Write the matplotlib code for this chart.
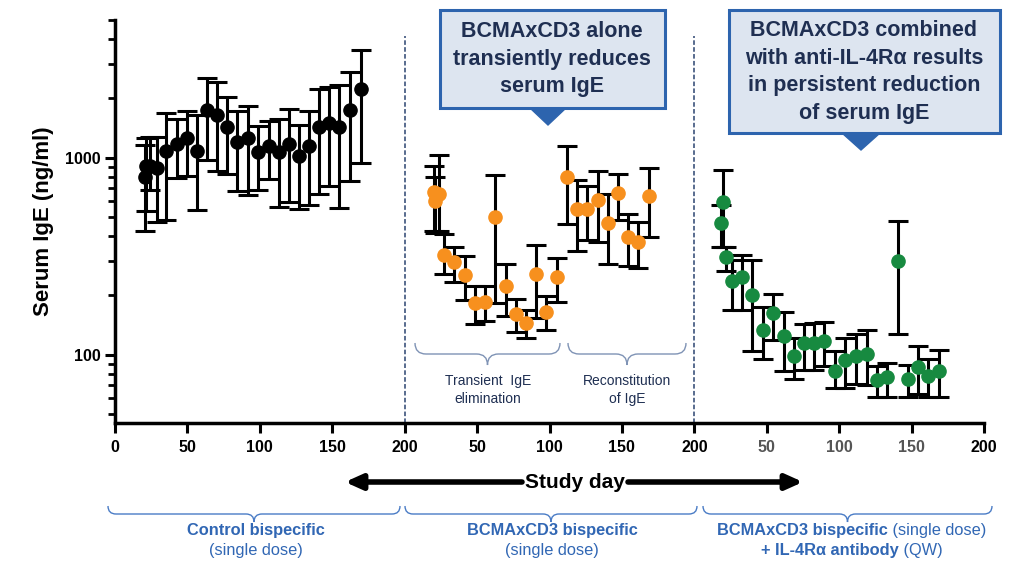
import numpy as np
import matplotlib
matplotlib.use('Agg')
import matplotlib.pyplot as plt
from matplotlib.path import Path
from matplotlib.patches import PathPatch, Polygon, Rectangle
from matplotlib.ticker import FixedLocator, LogLocator, NullFormatter, FixedFormatter

plt.rcParams['font.family'] = ['Liberation Sans', 'DejaVu Sans']

# Control bispecific (single dose)
day_ctrl = [21, 21.5, 24.5, 29, 35.3, 42.5, 49.6, 56.5, 63.5, 70.4, 77.6, 84.5,
            91.6, 99, 106, 113, 120, 127, 134, 141, 148, 155, 162, 170]
ige_ctrl = [794, 911, 911, 886, 1085, 1178, 1259, 1085, 1752, 1640, 1431, 1196,
            1259, 1064, 1150, 1064, 1178, 1016, 1150, 1431, 1500, 1431, 1752, 2240]
hi_ctrl = [1164, 1262, 1277, 1277, 1686, 1572, 1732, 1640, 2540, 2423, 2032, 1732,
           1837, 1453, 1541, 1577, 1767, 1470, 1732, 2232, 2286, 2346, 2724, 3536]
lo_ctrl = [423, 534, 688, 470, 484, 789, 804, 545, 977, 859, 827, 674,
           649, 682, 780, 562, 593, 549, 577, 656, 715, 555, 764, 940]

# BCMAxCD3 bispecific (single dose)
day_bcma = [20, 21, 23.5, 27.1, 34.2, 41.4, 48.3, 55.4, 62.5, 69.7, 76.8, 83.9,
            90.8, 97.7, 105, 112.2, 119, 126.1, 133.2, 140.2, 147.3, 154.2, 161.4, 168.5]
ige_bcma = [667, 600, 654, 321, 294, 253, 183, 186, 498, 222, 161, 144,
            258, 165, 248, 798, 551, 551, 612, 466, 662, 398, 372, 642]
hi_bcma = [911, 798, 1036, 410, 352, 316, 224, 224, 813, 287, 192, 169,
           362, 199, 310, 1141, 767, 721, 852, 654, 830, 520, 470, 886]
lo_bcma = [423, 415, 423, 257, 233, 190, 143, 149, 183, 157, 130, 122,
           154, 133, 185, 461, 335, 383, 375, 289, 484, 283, 277, 398]

# BCMAxCD3 bispecific + IL-4Ra antibody (QW)
day_combo = [19.7, 18.6, 21.6, 26, 33, 40, 47.2, 54.2, 61.6, 68.6, 75.6, 82.6,
             89.8, 97.2, 104.2, 111.6, 119, 126.3, 133.3, 140.3, 147.2, 154.2, 161.2, 168.6]
ige_combo = [593, 466, 313, 236, 248, 202, 134, 162, 125, 98, 114, 115,
             118, 83, 93.5, 99, 101, 74, 77, 298, 75, 87, 78, 83]
hi_combo = [862, 578, 354, 301, 319, 301, 175, 203, 164, 121, 143, 145,
            146, 105, 121, 127, 133, 88, 91, 476, 89, 111, 95, 106]
lo_combo = [354, 354, 265, 169, 169, 105, 95, 119, 83, 75, 84, 84,
            88, 68, 68, 71, 70, 61, 61, 127, 61, 63, 61, 61]

xtick_labels = ['0', '50', '100', '150', '200', '50', '100', '150', '200',
                '50', '100', '150', '200']

blue_txt = '#3167b4'
navy = '#1f2f52'

fig = plt.figure(figsize=(10.23, 5.62), dpi=100)
ax = fig.add_axes([115/1023, 1-423/562, (984-115)/1023, (423-20)/562])

groups = [(0, day_ctrl, ige_ctrl, hi_ctrl, lo_ctrl, 'black'),
          (200, day_bcma, ige_bcma, hi_bcma, lo_bcma, '#f7901e'),
          (400, day_combo, ige_combo, hi_combo, lo_combo, '#178a40')]
for off, d, v, hi, lo, c in groups:
    d = np.array(d) + off
    v = np.array(v, dtype=float)
    err = [v - np.array(lo), np.array(hi) - v]
    ax.errorbar(d, v, yerr=err, fmt='o', color=c, mec=c, ms=9.5,
                ecolor='black', elinewidth=2.2, capsize=7, capthick=2.2, zorder=3)

ax.set_yscale('log')
ax.set_xlim(0, 600)
ax.set_ylim(45, 5000)
ax.xaxis.set_major_locator(FixedLocator(np.arange(0, 601, 50)))
ax.set_xticklabels(xtick_labels, fontweight='bold', fontsize=11.5)
for lbl in ax.get_xticklabels()[9:12]:
    lbl.set_color('#555555')
ax.yaxis.set_major_locator(FixedLocator([100, 1000]))
ax.yaxis.set_major_formatter(FixedFormatter(['100', '1000']))
ax.yaxis.set_minor_locator(LogLocator(base=10, subs=np.arange(2, 10)))
ax.yaxis.set_minor_formatter(NullFormatter())
for lbl in ax.get_yticklabels():
    lbl.set_fontweight('bold')
    lbl.set_fontsize(11.5)
ax.tick_params(which='major', width=2.2, length=7)
ax.tick_params(which='minor', width=2, length=5)
ax.tick_params(axis='x', pad=5)
for s in ['top', 'right']:
    ax.spines[s].set_visible(False)
for s in ['left', 'bottom']:
    ax.spines[s].set_linewidth(2.5)
ax.set_ylabel('Serum IgE (ng/ml)', fontsize=16, fontweight='bold', labelpad=8)

for xv in [200, 400]:
    ax.axvline(xv, ymax=0.96, color='#2b4470', lw=1.1, ls=(0, (3, 1.5)), zorder=1)

# overlay in pixel coordinates for annotations
ov = fig.add_axes([0, 0, 1, 1], zorder=5)
ov.set_xlim(0, 1023)
ov.set_ylim(562, 0)
ov.axis('off')


def brace(x0, x1, y, h, color, lw):
    xm = (x0 + x1) / 2
    verts = [(x0, y - h), (x0, y), (x0 + h, y), (xm - h, y), (xm, y), (xm, y + h),
             (xm, y), (xm + h, y), (x1 - h, y), (x1, y), (x1, y - h)]
    codes = [Path.MOVETO, Path.CURVE3, Path.CURVE3, Path.LINETO, Path.CURVE3, Path.CURVE3,
             Path.CURVE3, Path.CURVE3, Path.LINETO, Path.CURVE3, Path.CURVE3]
    ov.add_patch(PathPatch(Path(verts, codes), fc='none', ec=color, lw=lw))


def rich_line(xc, y, parts, size, color):
    texts = [ov.text(0, y, s, fontweight=w, ha='left', va='center',
                     fontsize=size, color=color) for s, w in parts]
    fig.canvas.draw()
    r = fig.canvas.get_renderer()
    widths = [t.get_window_extent(r).width for t in texts]
    x = xc - sum(widths) / 2
    for t, wd in zip(texts, widths):
        t.set_x(x)
        x += wd


# sub-braces inside middle panel
brace(415, 560, 354, 11, '#7f93b5', 1.0)
brace(568, 686, 354, 11, '#7f93b5', 1.0)
ov.text(488, 390, 'Transient  IgE\nelimination', ha='center', va='center',
        fontsize=10, color=navy, linespacing=1.3)
ov.text(627, 390, 'Reconstitution\nof IgE', ha='center', va='center',
        fontsize=10, color=navy, linespacing=1.3)

# study day arrows
ov.text(575, 482, 'Study day', ha='center', va='center', fontsize=15, fontweight='bold')
ov.annotate('', xy=(345, 482), xytext=(522, 482),
            arrowprops=dict(arrowstyle='-|>,head_length=1.0,head_width=0.45',
                            lw=4, color='black', shrinkA=0, shrinkB=0))
ov.annotate('', xy=(803, 482), xytext=(628, 482),
            arrowprops=dict(arrowstyle='-|>,head_length=1.0,head_width=0.45',
                            lw=4, color='black', shrinkA=0, shrinkB=0))

# bottom braces and group labels
brace(108, 400, 514, 8, '#4a7cc6', 1.0)
brace(405, 697, 514, 8, '#4a7cc6', 1.0)
brace(703, 992, 514, 8, '#4a7cc6', 1.0)
rich_line(256, 531, [('Control bispecific', 'bold')], 11.8, blue_txt)
rich_line(256, 551, [('(single dose)', 'normal')], 11.8, blue_txt)
rich_line(552, 531, [('BCMAxCD3 bispecific', 'bold')], 11.8, blue_txt)
rich_line(552, 551, [('(single dose)', 'normal')], 11.8, blue_txt)
rich_line(852, 531, [('BCMAxCD3 bispecific', 'bold'), (' (single dose)', 'normal')], 11.8, blue_txt)
rich_line(852, 551, [('+ IL-4R\u03b1 antibody', 'bold'), (' (QW)', 'normal')], 11.8, blue_txt)

# callout boxes
box_fc = '#dde5f0'
box_ec = '#2d64ae'
ov.add_patch(Rectangle((440, 10), 225, 98, fc=box_fc, ec=box_ec, lw=2.2, zorder=6))
ov.add_patch(Polygon([(530, 108), (566, 108), (548, 125)], closed=True,
                     fc=box_ec, ec=box_ec, zorder=6))
ov.text(552, 59, 'BCMAxCD3 alone\ntransiently reduces\nserum IgE', ha='center', va='center',
        fontsize=15.5, fontweight='bold', color=navy, linespacing=1.4, zorder=7)
ov.add_patch(Rectangle((729, 10), 271, 123, fc=box_fc, ec=box_ec, lw=2.2, zorder=6))
ov.add_patch(Polygon([(842, 133), (880, 133), (861, 150)], closed=True,
                     fc=box_ec, ec=box_ec, zorder=6))
ov.text(864, 72, 'BCMAxCD3 combined\nwith anti-IL-4R\u03b1 results\nin persistent reduction\nof serum IgE',
        ha='center', va='center', fontsize=15.5, fontweight='bold', color=navy,
        linespacing=1.4, zorder=7)

fig.savefig('out.png', dpi=100)
